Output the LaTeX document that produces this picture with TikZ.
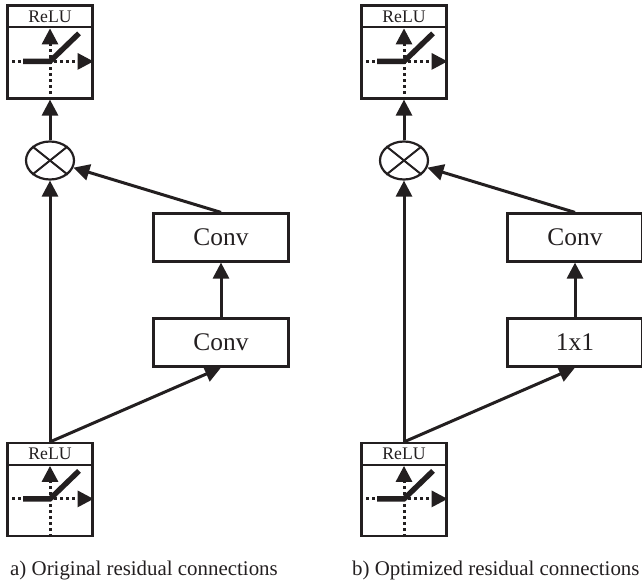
\documentclass[tikz,border=0pt]{standalone}
\usepackage{fontspec}
\setmainfont{Liberation Serif}
\usetikzlibrary{arrows.meta,shapes.geometric}
\definecolor{ink}{HTML}{231F20}
\tikzset{
  box/.style={draw=ink, line width=2.2pt, fill=white, inner sep=0pt, text=ink, font=\fontsize{25.4}{28}\selectfont},
  conv/.style={box, minimum width=135pt, minimum height=48pt},
  relu/.style={box, minimum width=85pt, minimum height=93pt},
  sum/.style={draw=ink, line width=2.2pt, ellipse, inner sep=0pt, minimum width=48pt, minimum height=38pt},
  link/.style={draw=ink, line width=3pt, -{Triangle[length=16pt,width=16pt]}},
  axis/.style={draw=ink, line width=3pt, dash pattern=on 3pt off 3pt, -{Triangle[length=16pt,width=16pt]}},
  curve/.style={draw=ink, line width=5.4pt},
  caption/.style={text=ink, anchor=base west, inner sep=0pt, font=\fontsize{20.9}{24}\selectfont}
}
\newcommand{\relubox}[3]{
\node [relu] (#3) at (#1,#2) {};
\node [text=ink, font=\fontsize{17.7}{20}\selectfont] (#3label) at ([yshift=-12pt]#3.north) {ReLU};
\coordinate (#3left) at ([yshift=-57pt]#3.north west);
\coordinate (#3right) at ([yshift=-57pt]#3.north east);
\coordinate (#3top) at ([yshift=-24pt]#3.north);
\coordinate (#3mid) at ([yshift=-57pt]#3.north);
\draw [draw=ink, line width=2.2pt] ([yshift=-23pt]#3.north west) -- ([yshift=-23pt]#3.north east);
\draw [axis] (#3left) -- (#3right);
\draw [axis] (#3.south) -- (#3top);
\draw [curve] ([xshift=-27pt]#3mid) -- (#3mid) -- ([xshift=29pt,yshift=28pt]#3mid);
}
\begin{document}
\begin{tikzpicture}[x=1pt,y=-1pt]
\useasboundingbox (0,0) rectangle (642,583);
\relubox{50}{52}{topa}
\relubox{50}{489.5}{bottoma}
\node [sum] (suma) at (50,160.5) {};
\draw [draw=ink, line width=2pt] (suma.north west) -- (suma.south east);
\draw [draw=ink, line width=2pt] (suma.south west) -- (suma.north east);
\node [conv] (conva) at (221,237.5) {Conv};
\node [conv] (convb) at (221,342.5) {Conv};
\draw [link] (suma) -- (topa);
\draw [link] (bottoma) -- (suma);
\draw [link] (bottoma.north) -- (convb.south);
\draw [link] (convb) -- (conva);
\draw [link] (conva.north) -- (suma);
\node [caption] (captiona) at (10,575) {a) Original residual connections};
\relubox{404}{52}{topc}
\relubox{404}{489.5}{bottomc}
\node [sum] (sumc) at (404,160.5) {};
\draw [draw=ink, line width=2pt] (sumc.north west) -- (sumc.south east);
\draw [draw=ink, line width=2pt] (sumc.south west) -- (sumc.north east);
\node [conv] (convc) at (575,237.5) {Conv};
\node [conv] (convd) at (575,342.5) {1x1};
\draw [link] (sumc) -- (topc);
\draw [link] (bottomc) -- (sumc);
\draw [link] (bottomc.north) -- (convd.south);
\draw [link] (convd) -- (convc);
\draw [link] (convc.north) -- (sumc);
\node [caption] (captionb) at (352,575) {b) Optimized residual connections};
\end{tikzpicture}
\end{document}
